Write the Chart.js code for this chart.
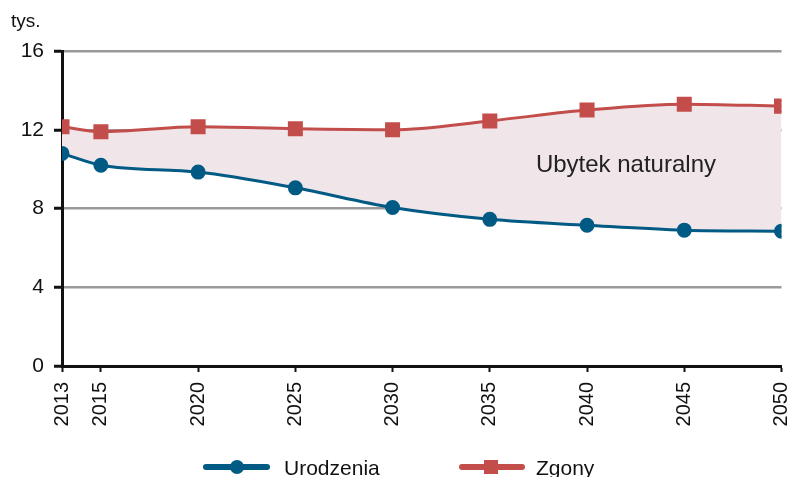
<!DOCTYPE html>
<html>
<head>
<meta charset="utf-8">
<script src="https://cdn.jsdelivr.net/npm/chart.js@4"></script>
<style>
  html, body { margin: 0; padding: 0; background: #fff; overflow: hidden; }
  canvas { display: block; }
</style>
</head>
<body>
<canvas id="chart" width="793" height="477" style="width:793px;height:477px"></canvas>
<script>
const years = [2013, 2015, 2020, 2025, 2030, 2035, 2040, 2045, 2050];
const births = [10.8, 10.2, 9.85, 9.05, 8.05, 7.45, 7.15, 6.9, 6.85];
const deaths = [12.15, 11.9, 12.15, 12.05, 12.0, 12.45, 13.0, 13.3, 13.2];
const yTicks = [0, 4, 8, 12, 16];

const blue = '#005a84';
const red = '#c24d4b';
const font = 'Arial, "Liberation Sans", sans-serif';

const extras = {
  id: 'extras',
  afterDraw(chart) {
    const { ctx, scales } = chart;
    ctx.save();
    ctx.fillStyle = '#111';
    ctx.font = '19px ' + font;
    ctx.textBaseline = 'alphabetic';
    ctx.fillText('tys.', 11, 27);

    // label in the shaded band
    ctx.font = '24px ' + font;
    ctx.fillStyle = '#222';
    ctx.textAlign = 'center';
    ctx.textBaseline = 'middle';
    ctx.fillText('Ubytek naturalny', scales.x.getPixelForValue(2042), scales.y.getPixelForValue(10.2));

    // legend
    const ly = 467;
    ctx.lineCap = 'round';
    ctx.lineWidth = 6;
    ctx.strokeStyle = blue;
    ctx.beginPath(); ctx.moveTo(206, ly); ctx.lineTo(267, ly); ctx.stroke();
    ctx.fillStyle = blue;
    ctx.beginPath(); ctx.arc(237, ly, 7, 0, Math.PI * 2); ctx.fill();
    ctx.strokeStyle = red;
    ctx.beginPath(); ctx.moveTo(462, ly); ctx.lineTo(522, ly); ctx.stroke();
    ctx.fillStyle = red;
    ctx.fillRect(484, ly - 7, 14, 14);
    ctx.fillStyle = '#111';
    ctx.textAlign = 'left';
    ctx.font = '21px ' + font;
    ctx.fillText('Urodzenia', 284, ly + 2);
    ctx.fillText('Zgony', 536, ly + 2);
    ctx.restore();
  }
};

new Chart(document.getElementById('chart'), {
  type: 'line',
  data: {
    datasets: [
      {
        label: 'Urodzenia',
        data: years.map((y, i) => ({ x: y, y: births[i] })),
        borderColor: blue,
        backgroundColor: blue,
        borderWidth: 3,
        pointRadius: 6,
        pointStyle: 'circle',
        cubicInterpolationMode: 'monotone',
        fill: false
      },
      {
        label: 'Zgony',
        data: years.map((y, i) => ({ x: y, y: deaths[i] })),
        borderColor: red,
        backgroundColor: red,
        borderWidth: 3,
        pointRadius: 8.5,
        pointStyle: 'rect',
        cubicInterpolationMode: 'monotone',
        fill: { target: 0, above: '#f0e6ea', below: '#f0e6ea' }
      }
    ]
  },
  options: {
    responsive: false,
    animation: false,
    layout: { padding: { top: 51, right: 9, bottom: 45, left: 0 } },
    plugins: {
      legend: { display: false },
      tooltip: { enabled: false },
      filler: { drawTime: 'beforeDatasetsDraw' }
    },
    scales: {
      x: {
        type: 'linear',
        min: 2013,
        max: 2050,
        afterBuildTicks: s => { s.ticks = years.map(v => ({ value: v })); },
        afterFit: s => { s.height = 66; s.paddingLeft = 0; s.paddingRight = 0; },
        ticks: {
          minRotation: 90,
          maxRotation: 90,
          color: '#111',
          font: { family: font, size: 20 },
          padding: 10,
          callback: v => String(v)
        },
        grid: { drawOnChartArea: false, tickColor: '#111', tickLength: 6, tickWidth: 2 },
        border: { color: '#111', width: 3 }
      },
      y: {
        min: 0,
        max: 16,
        afterBuildTicks: s => { s.ticks = yTicks.map(v => ({ value: v })); },
        afterFit: s => { s.width = 62; },
        ticks: {
          color: '#111',
          font: { family: font, size: 21 },
          padding: 10
        },
        grid: {
          color: c => (c.tick && c.tick.value === 0 ? 'rgba(0,0,0,0)' : '#9a9a9a'),
          lineWidth: 2.5,
          tickColor: '#111',
          tickLength: 8,
          tickWidth: 3
        },
        border: { color: '#111', width: 3 }
      }
    }
  },
  plugins: [extras]
});
</script>
</body>
</html>
